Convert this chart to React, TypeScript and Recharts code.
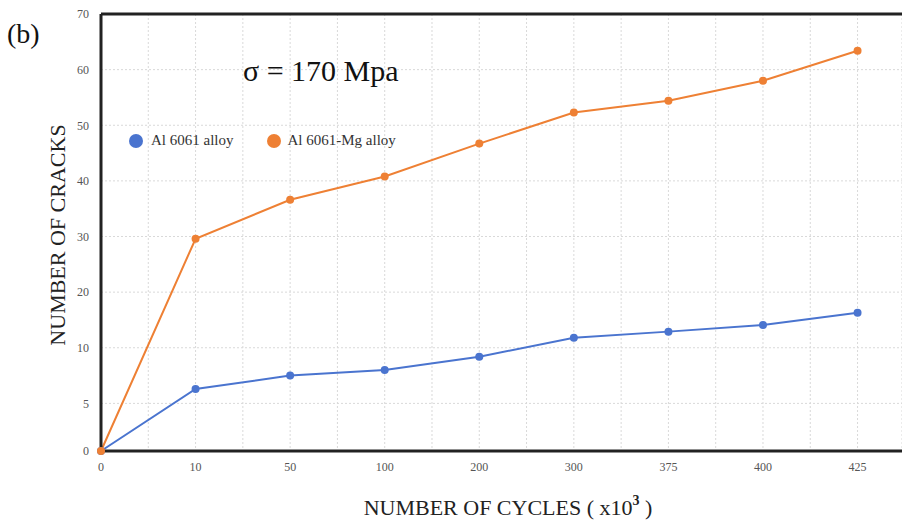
import React from "react";
import {
    LineChart,
    Line,
    XAxis,
    YAxis,
    CartesianGrid,
    ReferenceLine,
} from "recharts";

// cycles (x10^3) on the x axis, read as ordered categories
const categories = ["0", "10", "50", "100", "200", "300", "375", "400", "425"];
// number of cracks per alloy
const al6061 = [0, 6.3, 7.5, 8.0, 9.2, 11.8, 12.9, 14.1, 16.3];
const al6061Mg = [0, 29.6, 36.6, 40.8, 46.7, 52.3, 54.4, 58.0, 63.4];
// the y axis is not linear: 0-5-10 get their own steps, then 10 per step
const yTickLabels = [0, 5, 10, 20, 30, 40, 50, 60, 70];

const BLUE = "#4a74cf";
const ORANGE = "#ee8034";
const SERIF = "'Liberation Serif', 'Times New Roman', serif";

// crack count -> position on the (piecewise) y axis
const toAxis = (v: number) =>
    v <= 5 ? (v / 5) * 0.856 : v <= 10 ? 0.856 + (v - 5) / 5 : 1.856 + (v - 10) / 10;

const yTicks = yTickLabels.map(toAxis);
const yMax = toAxis(70);
const xMax = 8.47;
const xTicks = categories.map((_, i) => i);
// gridlines sit on every category and halfway between them
const gridTicks = Array.from({ length: 18 }, (_, i) => i / 2);

const data = categories.map((c, i) => ({
    idx: i,
    cycles: c,
    al: toAxis(al6061[i]),
    alMg: toAxis(al6061Mg[i]),
}));

export default function App() {
    return (
        <div
            style={{
                position: "absolute",
                left: 0,
                top: 0,
                width: 902,
                height: 526,
                background: "#fff",
                fontFamily: SERIF,
                overflow: "hidden",
            }}
        >
            <LineChart
                width={902}
                height={526}
                data={data}
                margin={{ top: 14, right: 0, bottom: 45, left: 0 }}
            >
                <CartesianGrid
                    xAxisId="grid"
                    stroke="#d9d9d9"
                    strokeDasharray="2 2"
                />
                <XAxis
                    xAxisId="grid"
                    dataKey="idx"
                    type="number"
                    domain={[0, xMax]}
                    ticks={gridTicks}
                    hide
                />
                <XAxis
                    dataKey="idx"
                    type="number"
                    domain={[0, xMax]}
                    ticks={xTicks}
                    height={30}
                    tickFormatter={(v) => categories[v]}
                    tick={{ fontSize: 12, fill: "#555", fontFamily: SERIF }}
                    tickLine={false}
                    tickMargin={5}
                    axisLine={{ stroke: "#222", strokeWidth: 3 }}
                />
                <YAxis
                    type="number"
                    domain={[0, yMax]}
                    ticks={yTicks}
                    tickFormatter={(v) => String(yTickLabels[yTicks.indexOf(v)] ?? "")}
                    tick={{ fontSize: 12, fill: "#555", fontFamily: SERIF }}
                    tickLine={false}
                    tickMargin={6}
                    width={101}
                    axisLine={{ stroke: "#222", strokeWidth: 3 }}
                />
                <ReferenceLine
                    y={yMax}
                    stroke="#222"
                    strokeWidth={3}
                    ifOverflow="visible"
                />
                <Line
                    dataKey="al"
                    stroke={BLUE}
                    strokeWidth={2}
                    dot={{ r: 4, fill: BLUE, stroke: BLUE, strokeWidth: 0 }}
                    isAnimationActive={false}
                />
                <Line
                    dataKey="alMg"
                    stroke={ORANGE}
                    strokeWidth={2}
                    dot={{ r: 4, fill: ORANGE, stroke: ORANGE, strokeWidth: 0 }}
                    isAnimationActive={false}
                />
            </LineChart>

            {/* panel tag and stress level */}
            <div style={{ position: "absolute", left: 7, top: 18, fontSize: 28, color: "#111" }}>
                (b)
            </div>
            <div style={{ position: "absolute", left: 243, top: 54, fontSize: 30, color: "#111" }}>
                σ = 170 Mpa
            </div>

            {/* legend */}
            <div
                style={{
                    position: "absolute",
                    left: 129,
                    top: 132,
                    display: "flex",
                    alignItems: "center",
                    fontSize: 15,
                    color: "#333",
                }}
            >
                <span style={{ width: 14, height: 14, borderRadius: 7, background: BLUE, marginRight: 8 }} />
                <span style={{ marginRight: 33 }}>Al 6061 alloy</span>
                <span style={{ width: 14, height: 14, borderRadius: 7, background: ORANGE, marginRight: 7 }} />
                <span>Al 6061-Mg alloy</span>
            </div>

            {/* axis titles */}
            <div
                style={{
                    position: "absolute",
                    left: 58,
                    top: 235,
                    transform: "translate(-50%, -50%) rotate(-90deg)",
                    whiteSpace: "nowrap",
                    fontSize: 22,
                    color: "#222",
                }}
            >
                NUMBER OF CRACKS
            </div>
            <div
                style={{
                    position: "absolute",
                    left: 508,
                    top: 508,
                    transform: "translate(-50%, -50%)",
                    whiteSpace: "nowrap",
                    fontSize: 22,
                    color: "#222",
                }}
            >
                NUMBER OF CYCLES ( x10
                <span style={{ fontSize: 14, fontWeight: 700, position: "relative", top: -10 }}>3</span> )
            </div>
        </div>
    );
}
